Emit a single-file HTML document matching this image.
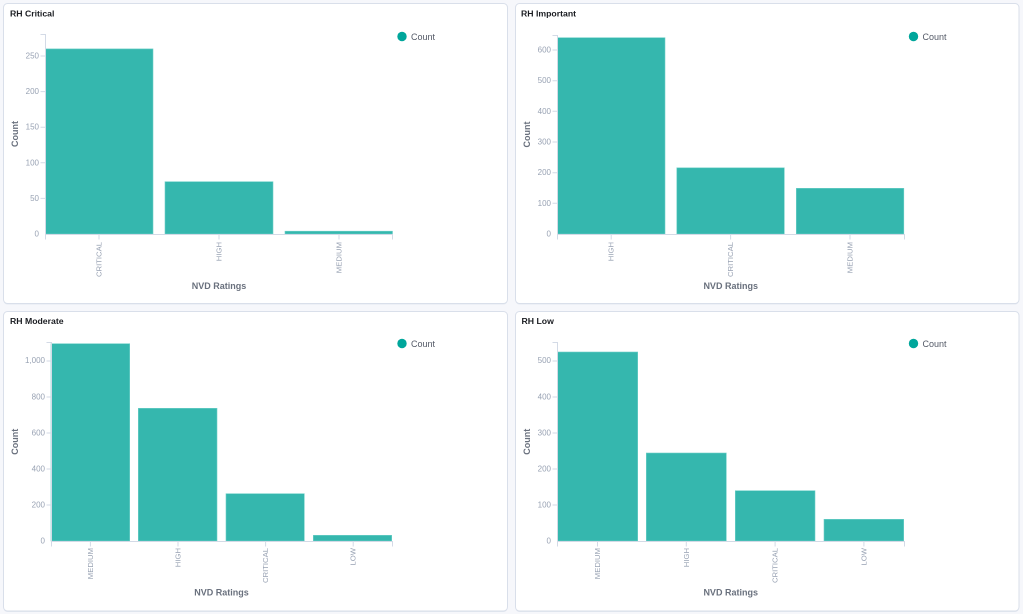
<!DOCTYPE html>
<html><head><meta charset="utf-8">
<style>
html,body{margin:0;padding:0;background:#f6f7fb;}
svg{display:block;font-family:"Liberation Sans",sans-serif;}
.t{font-size:8.7px;font-weight:bold;fill:#1a1c21;}
.yl{font-size:8px;fill:#98a2b3;text-anchor:end;dominant-baseline:central;}
.xl{font-size:7.7px;fill:#98a2b3;text-anchor:end;dominant-baseline:central;}
.at{font-size:9px;font-weight:bold;fill:#69707d;text-anchor:middle;dominant-baseline:central;}
.lg{font-size:9px;fill:#535966;dominant-baseline:central;}
.ax{stroke:#d3dae6;stroke-width:1;fill:none;}
.b{fill:#35b7ae;stroke:#6fd0c8;stroke-width:0.6;}
</style></head><body>
<svg width="1023" height="614" viewBox="0 0 1023 614" xmlns="http://www.w3.org/2000/svg">
<rect width="1023" height="614" fill="#f6f7fb"/>
<!-- panels -->
<g fill="#fff" stroke="#d9dfea" stroke-width="1">
<rect x="3.5" y="4.5" width="504" height="300" rx="4" fill="#e4e8f0" stroke="none"/>
<rect x="515.5" y="4.5" width="503.5" height="300" rx="4" fill="#e4e8f0" stroke="none"/>
<rect x="3.5" y="312.5" width="504" height="299.5" rx="4" fill="#e4e8f0" stroke="none"/>
<rect x="515.5" y="312.5" width="503.5" height="299.5" rx="4" fill="#e4e8f0" stroke="none"/>
<rect x="3.5" y="3.5" width="504" height="300" rx="4"/>
<rect x="515.5" y="3.5" width="503.5" height="300" rx="4"/>
<rect x="3.5" y="311.5" width="504" height="299.5" rx="4"/>
<rect x="515.5" y="311.5" width="503.5" height="299.5" rx="4"/>
</g>

<!-- Titles -->
<text class="t" x="10" y="16.5">RH Critical</text>
<text class="t" x="521" y="16.5">RH Important</text>
<text class="t" x="10" y="324">RH Moderate</text>
<text class="t" x="521.5" y="324">RH Low</text>

<!-- Legends -->
<circle cx="402" cy="36.5" r="4.7" fill="#00a69b"/><text class="lg" x="411" y="36.8">Count</text>
<circle cx="913.5" cy="36.5" r="4.7" fill="#00a69b"/><text class="lg" x="922.5" y="36.8">Count</text>
<circle cx="402" cy="343.5" r="4.7" fill="#00a69b"/><text class="lg" x="411" y="343.8">Count</text>
<circle cx="913.5" cy="343.5" r="4.7" fill="#00a69b"/><text class="lg" x="922.5" y="343.8">Count</text>

<!-- Panel 1 -->
<g>
<rect class="b" x="45.5" y="48.9" width="107.5" height="185.1"/>
<rect class="b" x="165" y="181.7" width="108" height="52.3"/>
<rect class="b" x="285" y="231.2" width="107.5" height="2.8"/>
<path class="ax" d="M40.5,34.5H45.5V234.5H392.5V239.5M45.5,234.5V239.5M99,234.5V239.5M219,234.5V239.5M339,234.5V239.5"/>
<path class="ax" d="M40.5,198.4H45.5M40.5,162.8H45.5M40.5,127.2H45.5M40.5,91.6H45.5M40.5,56H45.5"/>
<text class="yl" x="39" y="234">0</text>
<text class="yl" x="39" y="198.4">50</text>
<text class="yl" x="39" y="162.8">100</text>
<text class="yl" x="39" y="127.2">150</text>
<text class="yl" x="39" y="91.6">200</text>
<text class="yl" x="39" y="56">250</text>
<text class="xl" transform="translate(99,242) rotate(-90)">CRITICAL</text>
<text class="xl" transform="translate(219,242) rotate(-90)">HIGH</text>
<text class="xl" transform="translate(339,242) rotate(-90)">MEDIUM</text>
<text class="at" transform="translate(15,134) rotate(-90)">Count</text>
<text class="at" x="219" y="286">NVD Ratings</text>
</g>

<!-- Panel 2 -->
<g>
<rect class="b" x="557.7" y="37.7" width="107.3" height="196.3"/>
<rect class="b" x="676.8" y="167.8" width="107.5" height="66.2"/>
<rect class="b" x="796.3" y="188.3" width="107.5" height="45.7"/>
<path class="ax" d="M552.5,35.5H557.5V234.5H904.5V239.5M557.5,234.5V239.5M611.2,234.5V239.5M730.6,234.5V239.5M850,234.5V239.5"/>
<path class="ax" d="M552.5,203.3H557.5M552.5,172.7H557.5M552.5,142H557.5M552.5,111.3H557.5M552.5,80.7H557.5M552.5,50H557.5"/>
<text class="yl" x="551" y="234">0</text>
<text class="yl" x="551" y="203.3">100</text>
<text class="yl" x="551" y="172.7">200</text>
<text class="yl" x="551" y="142">300</text>
<text class="yl" x="551" y="111.3">400</text>
<text class="yl" x="551" y="80.7">500</text>
<text class="yl" x="551" y="50">600</text>
<text class="xl" transform="translate(611.2,242) rotate(-90)">HIGH</text>
<text class="xl" transform="translate(730.6,242) rotate(-90)">CRITICAL</text>
<text class="xl" transform="translate(850,242) rotate(-90)">MEDIUM</text>
<text class="at" transform="translate(527,134.5) rotate(-90)">Count</text>
<text class="at" x="730.7" y="286">NVD Ratings</text>
</g>

<!-- Panel 3 -->
<g>
<rect class="b" x="51" y="343.7" width="78.7" height="197.3"/>
<rect class="b" x="138.3" y="408.3" width="78.7" height="132.7"/>
<rect class="b" x="226" y="493.7" width="78.3" height="47.3"/>
<rect class="b" x="313.3" y="535.3" width="78.4" height="5.7"/>
<path class="ax" d="M46.5,342.5H51.5V541.5H392.5V546.5M51.5,541.5V546.5M90.4,541.5V546.5M178,541.5V546.5M265.6,541.5V546.5M353.2,541.5V546.5"/>
<path class="ax" d="M46.5,505H51.5M46.5,469H51.5M46.5,433H51.5M46.5,397H51.5M46.5,361H51.5"/>
<text class="yl" x="45" y="541">0</text>
<text class="yl" x="45" y="505">200</text>
<text class="yl" x="45" y="469">400</text>
<text class="yl" x="45" y="433">600</text>
<text class="yl" x="45" y="397">800</text>
<text class="yl" x="45" y="360.5">1,000</text>
<text class="xl" transform="translate(90.4,548) rotate(-90)">MEDIUM</text>
<text class="xl" transform="translate(178,548) rotate(-90)">HIGH</text>
<text class="xl" transform="translate(265.6,548) rotate(-90)">CRITICAL</text>
<text class="xl" transform="translate(353.2,548) rotate(-90)">LOW</text>
<text class="at" transform="translate(15,441.7) rotate(-90)">Count</text>
<text class="at" x="221.5" y="592.3">NVD Ratings</text>
</g>

<!-- Panel 4 -->
<g>
<rect class="b" x="557.7" y="352" width="80" height="189"/>
<rect class="b" x="646.3" y="453" width="80" height="88"/>
<rect class="b" x="735.3" y="490.7" width="79.7" height="50.3"/>
<rect class="b" x="824" y="519.3" width="79.7" height="21.7"/>
<path class="ax" d="M552.5,342.5H557.5V541.5H904.5V546.5M557.5,541.5V546.5M597.5,541.5V546.5M686.3,541.5V546.5M775.1,541.5V546.5M863.9,541.5V546.5"/>
<path class="ax" d="M552.5,505H557.5M552.5,469H557.5M552.5,433H557.5M552.5,397H557.5M552.5,361H557.5"/>
<text class="yl" x="551" y="541">0</text>
<text class="yl" x="551" y="505">100</text>
<text class="yl" x="551" y="469">200</text>
<text class="yl" x="551" y="433">300</text>
<text class="yl" x="551" y="397">400</text>
<text class="yl" x="551" y="360.5">500</text>
<text class="xl" transform="translate(597.5,548) rotate(-90)">MEDIUM</text>
<text class="xl" transform="translate(686.3,548) rotate(-90)">HIGH</text>
<text class="xl" transform="translate(775.1,548) rotate(-90)">CRITICAL</text>
<text class="xl" transform="translate(863.9,548) rotate(-90)">LOW</text>
<text class="at" transform="translate(527,441.7) rotate(-90)">Count</text>
<text class="at" x="730.7" y="592.3">NVD Ratings</text>
</g>
</svg>
</body></html>
